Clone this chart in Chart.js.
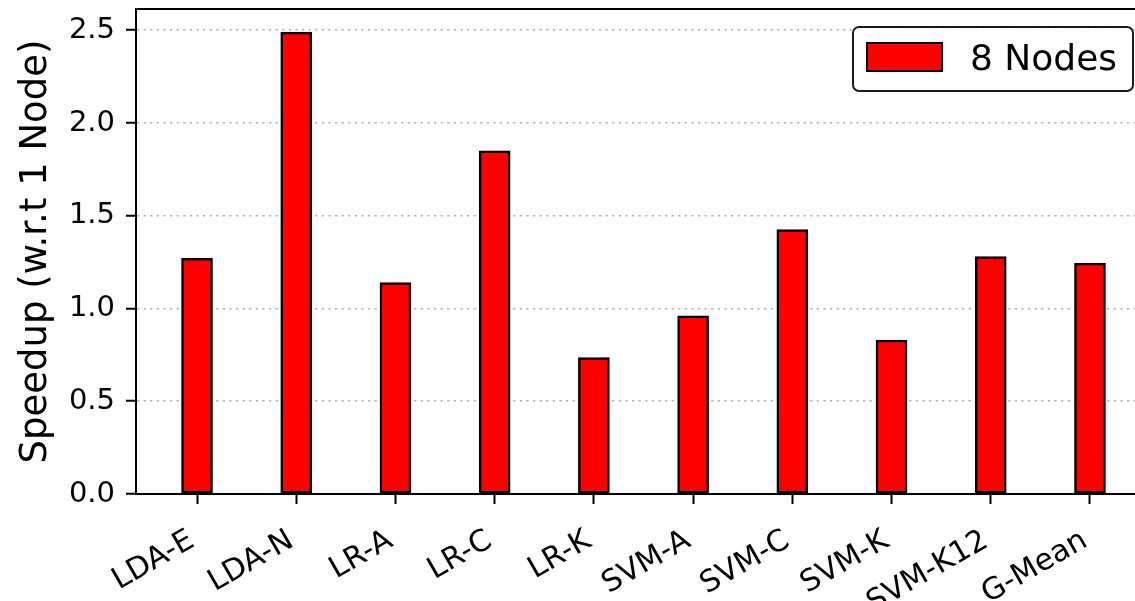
<!DOCTYPE html>
<html>
<head>
<meta charset="utf-8">
<script src="https://cdn.jsdelivr.net/npm/chart.js@4/dist/chart.umd.min.js"></script>
<style>
  html, body { margin: 0; padding: 0; background: #fff; overflow: hidden; }
  #wrap { width: 1160px; height: 601px; }
</style>
</head>
<body>
<div id="wrap"><canvas id="chart" width="1160" height="601"></canvas></div>
<script>
// Workloads on the x axis
const categories = ['LDA-E', 'LDA-N', 'LR-A', 'LR-C', 'LR-K', 'SVM-A', 'SVM-C', 'SVM-K', 'SVM-K12', 'G-Mean'];
// Speedup of the 8-node run relative to a single node
const speedup8Nodes = [1.27, 2.49, 1.14, 1.85, 0.735, 0.96, 1.425, 0.83, 1.28, 1.245];
const seriesLabel = '8 Nodes';
const yTickValues = [0, 0.5, 1.0, 1.5, 2.0, 2.5];
const yAxisTitle = 'Speedup (w.r.t 1 Node)';

Chart.defaults.font.family = "'DejaVu Sans', sans-serif";
Chart.defaults.color = '#000';

// Black frame around the plotting area (top and right spines included)
const framePlugin = {
  id: 'frame',
  afterDraw(chart) {
    const { ctx, chartArea: a } = chart;
    ctx.save();
    ctx.strokeStyle = '#000';
    ctx.lineWidth = 2;
    ctx.strokeRect(a.left, a.top, a.right - a.left, a.bottom - a.top);
    ctx.restore();
  }
};

// Boxed legend in the upper-right corner of the plotting area
const boxedLegendPlugin = {
  id: 'boxedLegend',
  afterDraw(chart) {
    const { ctx, chartArea: a } = chart;
    const ds = chart.data.datasets[0];
    const w = 280, h = 64, r = 6;
    const right = a.right - 18, top = a.top + 18, left = right - w;
    ctx.save();
    ctx.beginPath();
    ctx.moveTo(left + r, top);
    ctx.lineTo(right - r, top);
    ctx.arcTo(right, top, right, top + r, r);
    ctx.lineTo(right, top + h - r);
    ctx.arcTo(right, top + h, right - r, top + h, r);
    ctx.lineTo(left + r, top + h);
    ctx.arcTo(left, top + h, left, top + h - r, r);
    ctx.lineTo(left, top + r);
    ctx.arcTo(left, top, left + r, top, r);
    ctx.closePath();
    ctx.fillStyle = 'rgba(255,255,255,0.9)';
    ctx.fill();
    ctx.strokeStyle = '#1a1a1a';
    ctx.lineWidth = 2;
    ctx.stroke();

    ctx.fillStyle = ds.backgroundColor;
    ctx.fillRect(left + 14, top + 16, 75, 28);
    ctx.strokeStyle = ds.borderColor;
    ctx.lineWidth = 2;
    ctx.strokeRect(left + 14, top + 16, 75, 28);

    ctx.fillStyle = '#000';
    ctx.font = "36px 'DejaVu Sans', sans-serif";
    ctx.textAlign = 'left';
    ctx.textBaseline = 'alphabetic';
    ctx.fillText(ds.label, left + 117, top + 43);
    ctx.restore();
  }
};

new Chart(document.getElementById('chart'), {
  type: 'bar',
  data: {
    datasets: [{
      label: seriesLabel,
      data: speedup8Nodes.map((v, i) => ({ x: i, y: v })),
      backgroundColor: '#ff0000',
      borderColor: '#000',
      borderWidth: 2.5,
      borderSkipped: false,
      barThickness: 31
    }]
  },
  options: {
    responsive: false,
    animation: false,
    layout: { padding: { top: 9, right: 9, left: 0, bottom: 0 } },
    plugins: { legend: { display: false }, tooltip: { enabled: false } },
    scales: {
      x: {
        type: 'linear',
        min: -0.615,
        max: 9.615,
        offset: false,
        afterBuildTicks(scale) { scale.ticks = categories.map((_, i) => ({ value: i })); },
        afterFit(scale) {
          scale.height = 107;
          scale.paddingLeft = 0;
          scale.paddingRight = 0;
        },
        grid: { offset: false, drawOnChartArea: false, drawTicks: true, tickLength: 10, tickColor: '#000', tickWidth: 2 },
        border: { color: '#000', width: 2 },
        ticks: {
          autoSkip: false,
          minRotation: 30,
          maxRotation: 30,
          padding: 19,
          labelOffset: -5,
          color: '#000',
          font: { size: 30 },
          callback: (v) => categories[v]
        }
      },
      y: {
        min: 0,
        max: 2.6145,
        afterBuildTicks(scale) { scale.ticks = yTickValues.map(v => ({ value: v })); },
        afterFit(scale) {
          scale.width = 136;
          scale.paddingTop = 0;
          scale.paddingBottom = 0;
        },
        grid: { color: '#b0b0b0', lineWidth: 1.5, tickLength: 10, tickColor: '#000', tickWidth: 2 },
        border: { color: '#000', width: 2, dash: [2.2, 4.4] },
        ticks: {
          padding: 11,
          color: '#000',
          font: { size: 29 },
          callback: (v) => Number(v).toFixed(1)
        },
        title: {
          display: true,
          text: yAxisTitle,
          color: '#000',
          font: { size: 37 },
          padding: { top: 14, bottom: 0 }
        }
      }
    }
  },
  plugins: [framePlugin, boxedLegendPlugin]
});
</script>
</body>
</html>
